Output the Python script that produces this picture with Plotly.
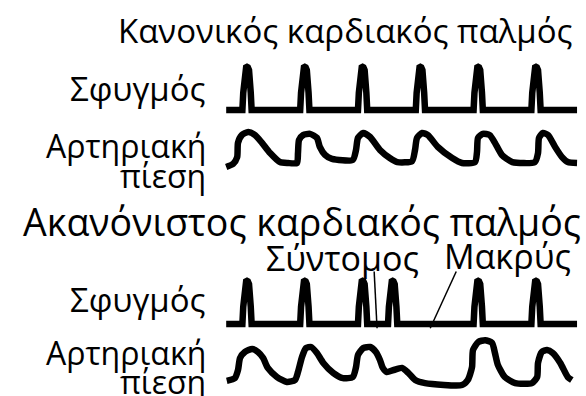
import plotly.graph_objects as go

# ===========================
# DATA (time in beats, amplitude normalised)
# ===========================

NORMAL_BEATS = [0, 1, 2, 3, 4, 5]
IRREGULAR_BEATS = [0, 1, 2, 2.52, 4, 5]

# one pulse spike, relative to its beat
SPIKE_DT = [-0.08, -0.065, -0.05, -0.035, -0.015, 0, 0.015, 0.035, 0.05, 0.065, 0.08]
SPIKE_AMP = [0, 0.4, 0.75, 0.93, 0.99, 1, 0.99, 0.93, 0.75, 0.4, 0]

TRACE_START = -0.36
TRACE_END = 5.71

NORMAL_PRESSURE_T = [-0.36, -0.24, -0.17, -0.156, -0.09, 0.02, 0.14, 0.26, 0.4, 0.57, 0.71,
                     0.865, 0.882, 0.9, 0.97, 1.09, 1.21, 1.26, 1.35, 1.47, 1.83,
                     1.886, 1.92, 2.01, 2.13, 2.3, 2.47, 2.6, 2.855,
                     2.907, 2.941, 3.03, 3.13, 3.3, 3.55, 3.72, 3.945,
                     3.979, 3.997, 4.08, 4.2, 4.29, 4.41, 4.59, 4.98,
                     5.035, 5.052, 5.12, 5.21, 5.33, 5.45, 5.55, 5.71]
NORMAL_PRESSURE = [-0.13, -0.03, 0.19, 0.65, 0.9, 1.0, 0.9, 0.65, 0.32, 0.03, 0.0,
                   0.0, 0.32, 0.74, 0.9, 0.94, 0.81, 0.52, 0.26, 0.13, 0.1,
                   0.42, 0.81, 0.97, 0.84, 0.42, 0.16, 0.03, 0.06,
                   0.42, 0.81, 0.97, 0.9, 0.52, 0.16, 0.0, 0.03,
                   0.35, 0.81, 0.94, 0.9, 0.65, 0.26, 0.03, 0.03,
                   0.32, 0.81, 0.97, 0.9, 0.52, 0.19, 0.03, 0.0]

IRREGULAR_PRESSURE_T = [-0.35, -0.21, -0.156, -0.12, -0.035, 0.09, 0.19, 0.28, 0.36, 0.52, 0.69,
                        0.83, 0.882, 0.952, 1.02, 1.11, 1.21, 1.32, 1.49, 1.66, 1.83,
                        1.886, 1.92, 2.01, 2.13, 2.23, 2.3, 2.35, 2.42, 2.53, 2.68,
                        2.79, 2.91, 3.08, 3.72, 3.82, 3.893, 3.91, 4.0, 4.12, 4.24,
                        4.29, 4.34, 4.46, 4.64, 4.93, 5.02, 5.035, 5.1, 5.19, 5.29,
                        5.42, 5.55, 5.62]
IRREGULAR_PRESSURE = [0.11, 0.18, 0.39, 0.71, 0.87, 0.95, 0.87, 0.71, 0.45, 0.21, 0.08,
                      0.13, 0.34, 0.74, 0.97, 1.0, 0.84, 0.58, 0.32, 0.18, 0.21,
                      0.47, 0.79, 0.97, 1.0, 0.87, 0.66, 0.45, 0.34, 0.39, 0.45,
                      0.32, 0.13, 0.05, 0.0, 0.13, 0.47, 0.92, 1.13, 1.18, 1.11,
                      0.84, 0.53, 0.21, 0.05, 0.05, 0.21, 0.58, 0.87, 0.92, 0.84,
                      0.58, 0.21, 0.13]

TITLE_NORMAL = "Κανονικός καρδιακός παλμός"
TITLE_IRREGULAR = "Ακανόνιστος καρδιακός παλμός"
LABEL_PULSE = "Σφυγμός"
LABEL_PRESSURE_1 = "Αρτηριακή"
LABEL_PRESSURE_2 = "πίεση"
LABEL_SHORT = "Σύντομος"
LABEL_LONG = "Μακρύς"

# ===========================
# LAYOUT HELPERS
# ===========================

W, H = 586, 396
PX_PER_BEAT = 57.8
BEAT0_PX = 247
FONT = "Open Sans"


def spike_train(beats):
    xs, ys = [TRACE_START], [0]
    for b in beats:
        xs += [b + d for d in SPIKE_DT]
        ys += SPIKE_AMP
    xs.append(TRACE_END)
    ys.append(0)
    return xs, ys


def domain(base_px, px_per_unit, lo, hi):
    bottom = base_px - lo * px_per_unit
    top = base_px - hi * px_per_unit
    return [max(0, (H - bottom) / H), min(1, (H - top) / H)]


def px(x, y):
    return x / W, 1 - y / H


fig = go.Figure()

rows = [
    ("y", *spike_train(NORMAL_BEATS), "linear"),
    ("y2", NORMAL_PRESSURE_T, NORMAL_PRESSURE, "spline"),
    ("y3", *spike_train(IRREGULAR_BEATS), "linear"),
    ("y4", IRREGULAR_PRESSURE_T, IRREGULAR_PRESSURE, "spline"),
]
for yref, xs, ys, shape in rows:
    fig.add_trace(go.Scatter(x=xs, y=ys, yaxis=yref, mode="lines",
                             line=dict(color="black", width=6.5, shape=shape, smoothing=0.6),
                             hoverinfo="skip", showlegend=False))

hidden = dict(visible=False, fixedrange=True)
fig.update_layout(
    width=W, height=H,
    margin=dict(l=0, r=0, t=0, b=0),
    paper_bgcolor="white", plot_bgcolor="rgba(0,0,0,0)",
    xaxis=dict(range=[-BEAT0_PX / PX_PER_BEAT, (W - BEAT0_PX) / PX_PER_BEAT], **hidden),
    yaxis=dict(range=[-0.3, 1.3], domain=domain(110, 43, -0.3, 1.3), **hidden),
    yaxis2=dict(range=[-0.4, 1.4], domain=domain(163, 31, -0.4, 1.4), **hidden),
    yaxis3=dict(range=[-0.3, 1.35], domain=domain(324, 43, -0.3, 1.35), **hidden),
    yaxis4=dict(range=[-0.25, 1.4], domain=domain(385, 38, -0.25, 1.4), **hidden),
)

# pointers to the short and long beats
fig.add_shape(type="line", xref="x", yref="y3", x0=2.2, y0=1.22, x1=2.25, y1=-0.1,
              line=dict(color="black", width=1.5))
fig.add_shape(type="line", xref="x", yref="y3", x0=3.62, y0=1.22, x1=3.17, y1=-0.1,
              line=dict(color="black", width=1.5))

texts = [
    (TITLE_NORMAL, 345, 30, 33, "center"),
    (LABEL_PULSE, 207, 89, 33, "right"),
    (LABEL_PRESSURE_1, 207, 145, 32, "right"),
    (LABEL_PRESSURE_2, 207, 175, 32, "right"),
    (TITLE_IRREGULAR, 302, 221, 37.5, "center"),
    (LABEL_SHORT, 342, 258, 34, "center"),
    (LABEL_LONG, 507, 256, 34, "center"),
    (LABEL_PULSE, 207, 299, 33, "right"),
    (LABEL_PRESSURE_1, 207, 352, 32, "right"),
    (LABEL_PRESSURE_2, 207, 381, 32, "right"),
]
for text, x, y, size, anchor in texts:
    ax, ay = px(x, y)
    fig.add_annotation(text=text, x=ax, y=ay, xref="paper", yref="paper",
                       xanchor=anchor, yanchor="middle", showarrow=False, borderpad=0,
                       font=dict(family=FONT, size=size, color="black"))

# the page body has a default 8px margin: drop it so the figure sits at the corner
fig.write_html("out.html", config={"displayModeBar": False},
               post_script="document.body.style.margin='0px';")
